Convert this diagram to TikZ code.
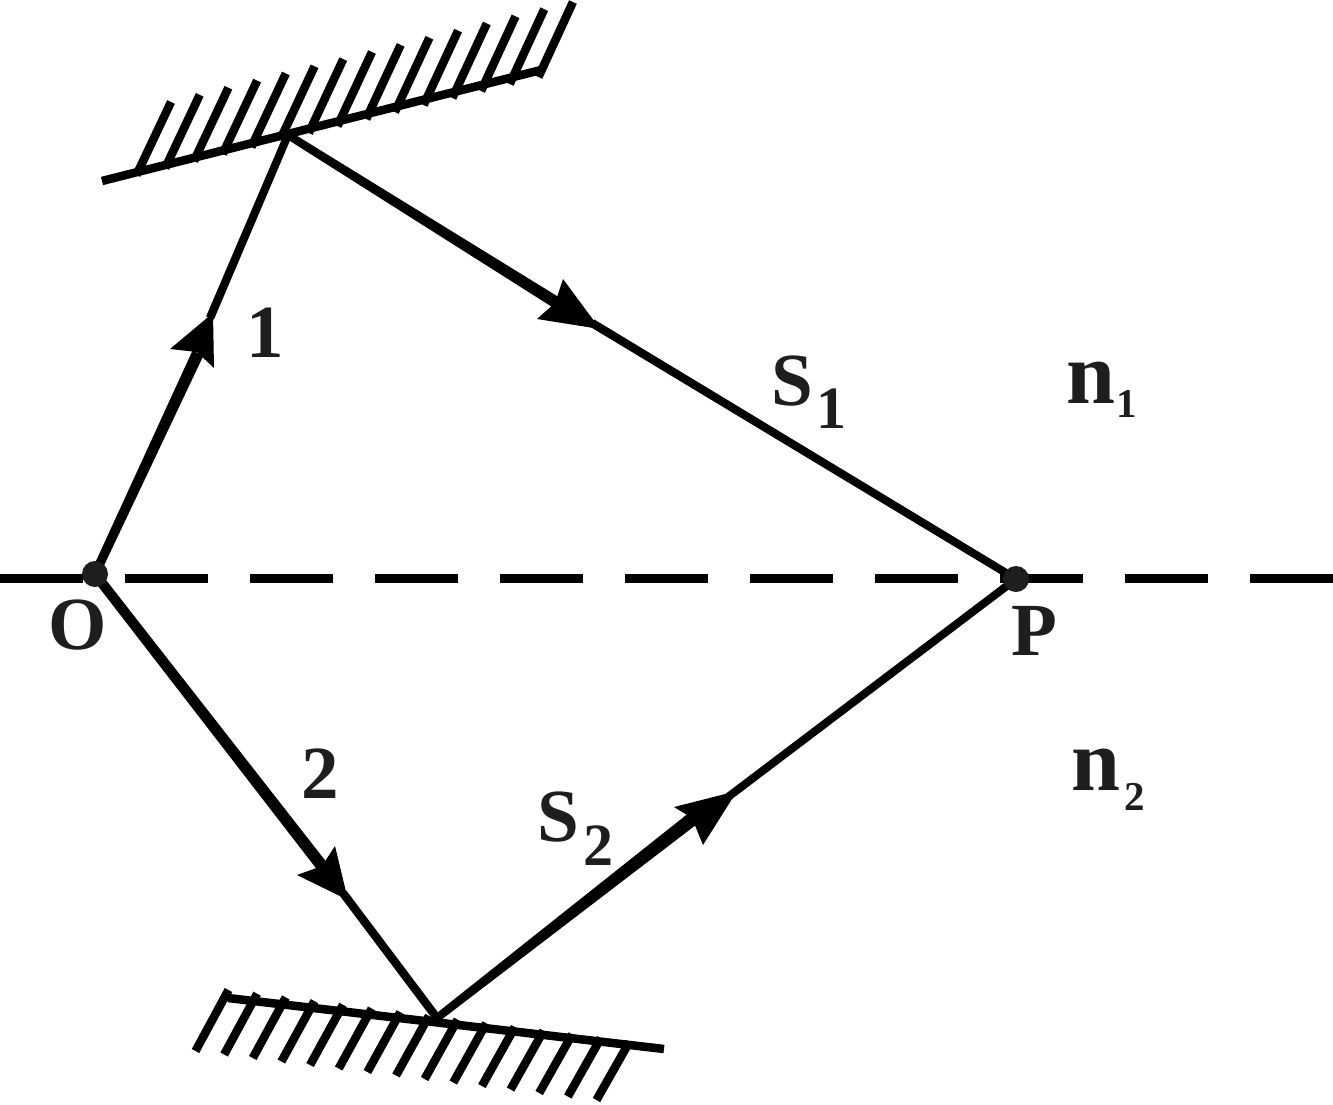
\documentclass[tikz,border=0pt]{standalone}
\usepackage{fontspec}
\usetikzlibrary{calc}
\setmainfont{Liberation Serif}
\definecolor{ink}{HTML}{1E1E1E}
\newcommand{\taperray}[4]{% from, to, half width at from, half width at to
  \fill[black] ($(#1)!#3!90:(#2)$) -- ($(#1)!#3!-90:(#2)$) -- ($(#2)!#4!90:(#1)$) -- ($(#2)!#4!-90:(#1)$) -- cycle;}
\tikzset{
  lbl/.style={anchor=base,inner sep=0pt,text=ink,font=\fontsize{75}{75}\selectfont\bfseries},
  nlbl/.style={anchor=base,inner sep=0pt,text=ink,font=\fontsize{88}{88}\selectfont\bfseries},
  sub/.style={anchor=base,inner sep=0pt,text=ink,font=\fontsize{41}{41}\selectfont\bfseries},
  ssub/.style={anchor=base,inner sep=0pt,text=ink,font=\fontsize{60}{60}\selectfont\bfseries},
  mirror/.style={line width=8.5pt,black},
  hatch/.style={line width=8.5pt,black},
  head/.style={fill=black,draw=none},
  dot/.style={circle,fill=ink,draw=none,minimum width=26pt,minimum height=23pt,inner sep=0pt},
}
\begin{document}
\begin{tikzpicture}[x=1pt,y=-1pt]
\useasboundingbox (0,0) rectangle (1333,1104);
% interface
\coordinate (DL) at (0,578);
\coordinate (DR) at (1333,578);
\draw[line width=9pt,black,dash pattern=on 83pt off 42pt] (DL) -- (DR);
% key points
\coordinate (O) at (95,574);
\coordinate (P) at (1016,579);
\coordinate (R1) at (288,135);
\coordinate (R2) at (437,1018);
% top mirror
\coordinate (M1a) at (102,181);
\coordinate (M1b) at (541,70);
\draw[mirror] (M1a) -- (M1b);
\foreach \i in {0,...,14}{
  \draw[hatch] ({136.5+28.71*\i},{175-7*\i}) -- ({171+28.71*\i},{102-7.14*\i});
}
% bottom mirror
\coordinate (M2a) at (228,998);
\coordinate (M2b) at (664,1049);
\draw[mirror] (M2a) -- (M2b);
\foreach \i in {0,...,14}{
  \draw[hatch] ({228.5+28.64*\i},{990+3.7*\i}) -- ({195.5+28.64*\i},{1051+3.5*\i});
}
% ray 1
\coordinate (N1) at (198,353);
\coordinate (T1) at (210,318);
\taperray{O}{N1}{4.5pt}{6pt}
\taperray{T1}{R1}{4.2pt}{4pt}
\fill[head] (213,313) -- (170,349) -- (197,352) -- (214,368) -- cycle;
% ray 1 reflected
\coordinate (N2) at (565,308);
\coordinate (T2) at (592,323);
\taperray{R1}{N2}{4pt}{6pt}
\taperray{T2}{P}{4.2pt}{4pt}
\fill[head] (600,329) -- (563,279) -- (555,303) -- (537,319) -- cycle;
% ray 2
\coordinate (N3) at (325,870);
\coordinate (T3) at (343,893);
\taperray{O}{N3}{5pt}{6pt}
\taperray{T3}{R2}{4.2pt}{4.2pt}
\fill[head] (348,900) -- (335,846) -- (322,866) -- (297,875) -- cycle;
% ray 2 reflected
\coordinate (N4) at (700,813);
\coordinate (T4) at (728,797);
\taperray{R2}{N4}{4pt}{7pt}
\taperray{T4}{P}{4pt}{4pt}
\fill[head] (737,791) -- (674,807) -- (692,818) -- (703,845) -- cycle;
% points
\node[dot] (Odot) at (O) {};
\node[dot] (Pdot) at (P) {};
% labels
\node[lbl] (lO) at (78,649) {O};
\node[lbl] (lP) at (1034,655) {P};
\node[lbl] (l1) at (265,357) {1};
\node[lbl] (l2) at (320,798) {2};
\node[lbl] (lS1) at (792,405) {S};
\node[ssub] (lS1s) at (831,428) {1};
\node[lbl] (lS2) at (558,841) {S};
\node[ssub] (lS2s) at (598,865) {2};
\node[nlbl] (ln1) at (1091,403) {n};
\node[sub] (ln1s) at (1127,417) {1};
\node[nlbl] (ln2) at (1096,790) {n};
\node[sub] (ln2s) at (1135,810) {2};
\end{tikzpicture}
\end{document}
